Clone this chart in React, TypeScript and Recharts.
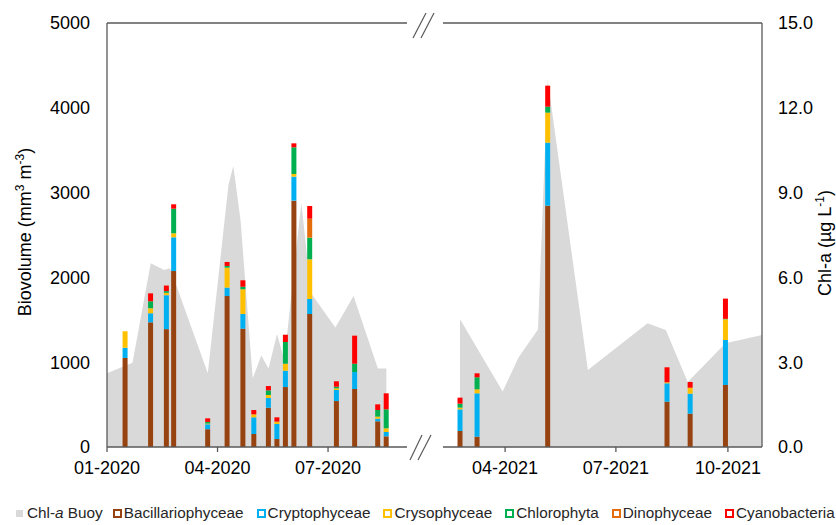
import React from 'react';
import { ComposedChart, Bar, Area, XAxis, YAxis, ReferenceLine } from 'recharts';

const DAY = 86400000;
const toDay = (iso: string) => Math.round(Date.parse(iso + 'T00:00:00Z') / DAY);
const monthLabel = (day: number) => {
  const d = new Date(day * DAY);
  return `${String(d.getUTCMonth() + 1).padStart(2, '0')}-${d.getUTCFullYear()}`;
};

// phytoplankton groups, stacked bottom to top
const groups = ['Bacillariophyceae', 'Cryptophyceae', 'Crysophyceae', 'Chlorophyta', 'Dinophyceae', 'Cyanobacteria'];
const groupColors = ['#974311', '#00B0F0', '#FFC000', '#00B050', '#E46C0A', '#FF0000'];

// 2020 sampling campaign (mm3 m-3)
const samples2020 = [
  '2020-01-16', '2020-02-06', '2020-02-19', '2020-02-25', '2020-03-24', '2020-04-09', '2020-04-22', '2020-05-01', '2020-05-13',
  '2020-05-20', '2020-05-27', '2020-06-03', '2020-06-16', '2020-07-08', '2020-07-23', '2020-08-11', '2020-08-18',
];
const bacillario2020 = [1050, 1470, 1390, 2075, 210, 1780, 1395, 153, 463, 94, 707, 2905, 1568, 542, 684, 303, 126];
const crypto2020 = [120, 107, 400, 398, 58, 100, 173, 197, 115, 177, 193, 283, 177, 130, 200, 31, 51];
const cryso2020 = [195, 59, 28, 47, 8, 235, 292, 35, 35, 28, 82, 31, 468, 20, 0, 24, 43];
const chloro2020 = [0, 82, 20, 290, 20, 20, 30, 0, 55, 0, 256, 315, 255, 19, 98, 78, 224];
const dino2020 = [0, 0, 0, 0, 0, 0, 0, 0, 0, 0, 0, 0, 224, 0, 0, 0, 0];
const cyano2020 = [0, 94, 66, 52, 42, 47, 76, 51, 51, 51, 86, 47, 150, 64, 331, 67, 189];

// 2021 sampling campaign (mm3 m-3)
const samples2021 = ['2021-02-23', '2021-03-09', '2021-05-06', '2021-08-12', '2021-08-31', '2021-09-29'];
const bacillario2021 = [189, 122, 2846, 535, 393, 731];
const crypto2021 = [255, 511, 743, 216, 236, 531];
const cryso2021 = [20, 47, 354, 12, 70, 244];
const chloro2021 = [47, 142, 70, 0, 0, 5];
const dino2021 = [0, 0, 0, 0, 0, 0];
const cyano2021 = [71, 47, 248, 177, 68, 239];

// buoy Chl-a (µg L-1)
const chlDates2020 = [
  '2020-01-01', '2020-01-22', '2020-02-06', '2020-02-17', '2020-02-22', '2020-03-24', '2020-04-10', '2020-04-14', '2020-04-20',
  '2020-04-30', '2020-05-07', '2020-05-13', '2020-05-20', '2020-05-26', '2020-06-09', '2020-06-17', '2020-07-07', '2020-07-22',
  '2020-08-11', '2020-08-18',
];
const chl2020 = [2.61, 2.98, 6.5, 6.26, 6.32, 2.61, 9.27, 9.94, 8.0, 2.43, 3.24, 2.78, 4.0, 3.08, 8.64, 5.44, 4.23, 5.34, 2.78, 2.78];
const chlDates2021 = [
  '2021-02-23', '2021-03-30', '2021-04-12', '2021-04-28', '2021-05-06', '2021-06-08', '2021-07-27', '2021-08-11', '2021-08-29',
  '2021-09-29', '2021-10-29',
];
const chl2021 = [4.52, 1.96, 3.17, 4.16, 12.98, 2.72, 4.38, 4.14, 2.3, 3.67, 3.96];

// axis ranges and ticks
const range2020 = ['2020-01-01', '2020-09-04'];
const range2021 = ['2021-02-09', '2021-10-29'];
const monthTicks2020 = ['2020-01-01', '2020-04-01', '2020-07-01'];
const monthTicks2021 = ['2021-04-01', '2021-07-01', '2021-10-01'];
const bioTicks = [0, 1000, 2000, 3000, 4000, 5000];
const chlTicks = [0, 3, 6, 9, 12, 15];

const buildBars = (dates: string[], cols: number[][]) =>
  dates.map((date, i) => {
    const row: Record<string, number> = { t: toDay(date) };
    groups.forEach((g, k) => (row[g] = cols[k][i]));
    return row;
  });
const buildChl = (dates: string[], vals: number[]) => dates.map((date, i) => ({ t: toDay(date), chl: vals[i] }));

const bars2020 = buildBars(samples2020, [bacillario2020, crypto2020, cryso2020, chloro2020, dino2020, cyano2020]);
const bars2021 = buildBars(samples2021, [bacillario2021, crypto2021, cryso2021, chloro2021, dino2021, cyano2021]);
const buoy2020 = buildChl(chlDates2020, chl2020);
const buoy2021 = buildChl(chlDates2021, chl2021);

const axisColor = '#595959';
const axisLine = { stroke: axisColor, strokeWidth: 1.3 };
const tickText = { fontSize: 18, fill: '#000' };

interface PanelProps {
  bars: Record<string, number>[];
  buoy: { t: number; chl: number }[];
  range: string[];
  months: string[];
  side: 'left' | 'right';
  left: number;
  width: number;
}

const Panel = ({ bars, buoy, range, months, side, left, width }: PanelProps) => {
  const domain = range.map(toDay);
  return (
    <div style={{ position: 'absolute', left, top: 0 }}>
      <ComposedChart width={width} height={525} data={bars} margin={{ top: 23, right: 0, bottom: 48, left: 0 }}>
        <XAxis
          xAxisId="date"
          dataKey="t"
          type="number"
          scale="linear"
          domain={domain}
          allowDataOverflow
          ticks={months.map(toDay)}
          tickFormatter={monthLabel}
          interval={0}
          height={30}
          tickSize={5}
          tickMargin={9}
          axisLine={axisLine}
          tickLine={axisLine}
          tick={tickText}
        />
        {/* the buoy series gets its own hidden date axis so bar widths ignore its dates */}
        <XAxis xAxisId="buoyDate" dataKey="t" type="number" scale="linear" domain={domain} allowDataOverflow hide height={0} />
        <YAxis
          yAxisId="bio"
          orientation="left"
          domain={[0, 5000]}
          ticks={bioTicks}
          interval={0}
          width={107}
          hide={side !== 'left'}
          axisLine={axisLine}
          tickLine={false}
          tickSize={6}
          tickMargin={11}
          tick={tickText}
        />
        <YAxis
          yAxisId="chl"
          orientation="right"
          domain={[0, 15]}
          ticks={chlTicks}
          interval={0}
          width={74}
          hide={side !== 'right'}
          axisLine={axisLine}
          tickLine={false}
          tickSize={6}
          tickMargin={10}
          tick={tickText}
          tickFormatter={(v: number) => v.toFixed(1)}
        />
        <Area
          xAxisId="buoyDate"
          yAxisId="chl"
          data={buoy}
          dataKey="chl"
          type="linear"
          fill="#D9D9D9"
          fillOpacity={1}
          stroke="none"
          isAnimationActive={false}
        />
        {groups.map((g, k) => (
          <Bar
            key={g}
            xAxisId="date"
            yAxisId="bio"
            dataKey={g}
            stackId="bio"
            fill={groupColors[k]}
            barSize={5}
            isAnimationActive={false}
          />
        ))}
        {side === 'left' ? (
          <ReferenceLine xAxisId="date" yAxisId="bio" y={5000} stroke={axisColor} strokeWidth={1.3} />
        ) : (
          <ReferenceLine xAxisId="date" yAxisId="chl" y={15} stroke={axisColor} strokeWidth={1.3} />
        )}
      </ComposedChart>
    </div>
  );
};

const Swatch = ({ color, filled }: { color: string; filled?: boolean }) => (
  <span
    style={{
      display: 'inline-block',
      boxSizing: 'border-box',
      width: filled ? 7 : 9,
      height: filled ? 7 : 9,
      background: filled ? color : '#fff',
      border: filled ? 'none' : `2px solid ${color}`,
      marginRight: filled ? 4 : 2,
    }}
  />
);

export default function App() {
  return (
    <div
      style={{
        position: 'absolute',
        left: 0,
        top: 0,
        width: 836,
        height: 525,
        overflow: 'hidden',
        background: '#fff',
        fontFamily: '"Liberation Sans", Arial, sans-serif',
      }}
    >
      <Panel bars={bars2020} buoy={buoy2020} range={range2020} months={monthTicks2020} side="left" left={0} width={407} />
      <Panel bars={bars2021} buoy={buoy2021} range={range2021} months={monthTicks2021} side="right" left={443} width={393} />

      <svg width={836} height={525} style={{ position: 'absolute', left: 0, top: 0, pointerEvents: 'none' }}>
        {/* axis break marks */}
        <g stroke={axisColor} strokeWidth={1.2}>
          <line x1={413} y1={38} x2={426} y2={13} />
          <line x1={421} y1={38} x2={434} y2={13} />
          <line x1={410} y1={460} x2={422} y2={435} />
          <line x1={418} y1={460} x2={431} y2={435} />
        </g>
        <text transform="translate(31,232) rotate(-90)" textAnchor="middle" fontSize={18} fill="#000">
          Biovolume (mm<tspan dy={-7} fontSize={12}>3</tspan>
          <tspan dy={7}> m</tspan>
          <tspan dy={-7} fontSize={12}>-3</tspan>
          <tspan dy={7}>)</tspan>
        </text>
        <text transform="translate(831,243) rotate(-90)" textAnchor="middle" fontSize={18} fill="#000">
          Chl-a (µg L<tspan dy={-7} fontSize={12}>-1</tspan>
          <tspan dy={7}>)</tspan>
        </text>
      </svg>

      <div
        style={{
          position: 'absolute',
          left: 16,
          top: 504,
          width: 820,
          display: 'flex',
          alignItems: 'center',
          whiteSpace: 'nowrap',
          fontSize: 15.3,
          color: '#262626',
          lineHeight: '18px',
        }}
      >
        <span style={{ display: 'flex', alignItems: 'center', marginRight: 10 }}>
          <Swatch color="#D9D9D9" filled />
          Chl-<i>a</i>&nbsp;Buoy
        </span>
        {groups.map((g, k) => (
          <span key={g} style={{ display: 'flex', alignItems: 'center', marginRight: 13 }}>
            <Swatch color={groupColors[k]} />
            {g}
          </span>
        ))}
      </div>
    </div>
  );
}
